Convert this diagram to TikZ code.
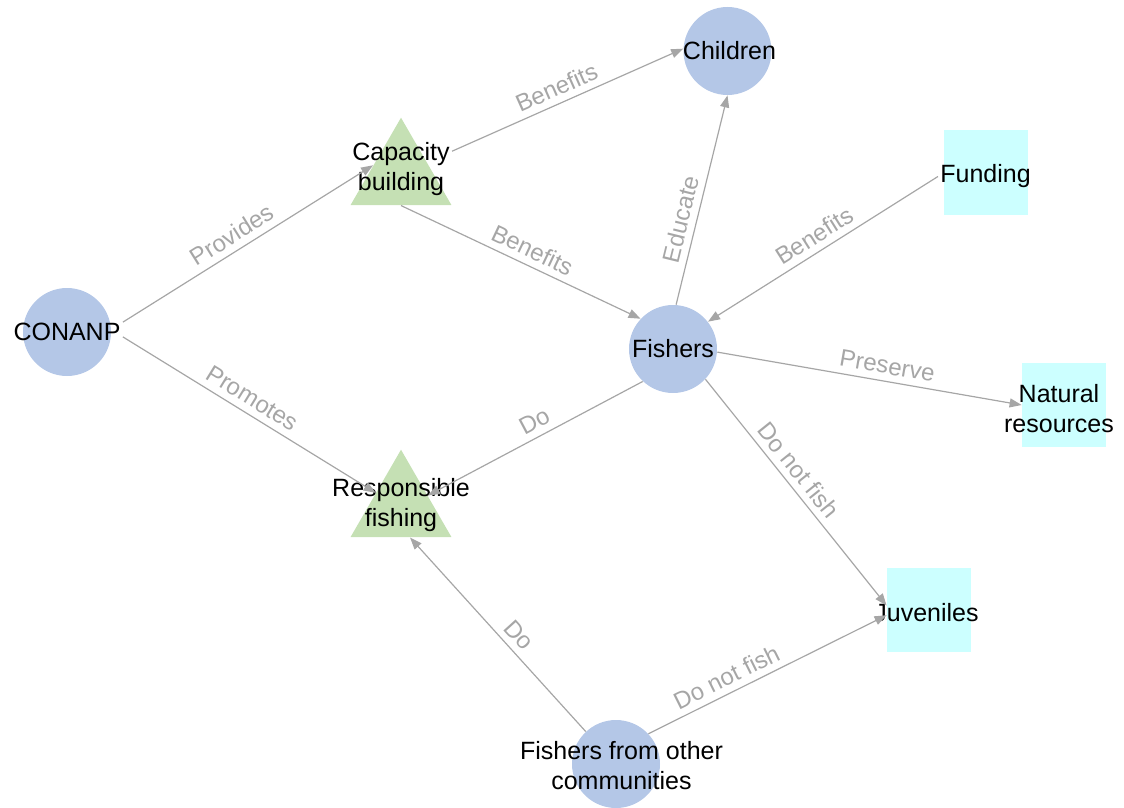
\documentclass[tikz,border=0pt]{standalone}
\usepackage{fontspec}
\setmainfont{Liberation Sans}
\usetikzlibrary{positioning, shapes.geometric, arrows.meta}
\definecolor{bubble}{RGB}{180,199,231}
\definecolor{leaf}{RGB}{197,224,180}
\definecolor{aqua}{RGB}{204,255,255}
\definecolor{wire}{RGB}{166,166,166}

\begin{document}
\begin{tikzpicture}[node distance=50pt, on grid,
		>={Triangle[length=6pt,width=4.5pt]},
		actor/.style={circle, fill=bubble, minimum size=44pt, inner sep=0pt},
		action/.style={regular polygon, regular polygon sides=3, fill=leaf, minimum size=58.3pt, inner sep=0pt},
		asset/.style={rectangle, fill=aqua, minimum size=42pt, inner sep=0pt},
		txt/.style={font=\fontsize{12.5}{15}\selectfont, align=center, inner sep=1pt},
		link/.style={draw=wire, line width=0.6pt, ->},
		lbl/.style={sloped, above, text=wire, font=\fontsize{12}{14}\selectfont}]
			\useasboundingbox (0,0) rectangle (562pt,-404pt);

			\node[actor, label={[txt, name=conanp-t]center:CONANP}] (conanp) at (33.5pt,-166pt) {};
			\node[action, above right=78pt and 167pt of conanp, label={[txt, name=cap-t, yshift=3.6pt]center:Capacity\\building}] (cap) {};
			\node[action, below right=88pt and 167pt of conanp, label={[txt, name=resp-t, yshift=1.6pt]center:Responsible\\fishing}] (resp) {};
			\node[actor, below right=8.5pt and 303pt of conanp, label={[txt, name=fish-t]center:Fishers}] (fish) {};
			\node[actor, above right=149pt and 27.25pt of fish, label={[txt, name=chil-t, xshift=1pt]center:Children}] (chil) {};
			\node[asset, above right=88.25pt and 156.25pt of fish, label={[txt, name=fund-t, yshift=-2pt]center:Funding}] (fund) {};
			\node[asset, below right=28pt and 195.5pt of fish, label={[txt, name=nat-t, xshift=-2.5pt, yshift=-2pt]center:Natural\\resources}] (nat) {};
			\node[asset, below right=130.5pt and 128pt of fish, label={[txt, name=juv-t, xshift=-1.25pt, yshift=-1.5pt]center:Juveniles}] (juv) {};
			\node[actor, below left=207.5pt and 28.5pt of fish, label={[txt, name=oth-t, xshift=2.75pt, yshift=-1pt]center:Fishers from other\\communities}] (oth) {};

			\draw[link] (conanp-t.10) -- node[lbl, pos=.47] {Provides} (cap.159);
			\draw[link] (conanp-t.-5) -- node[lbl, pos=.48] {Promotes} (resp.149);
			\draw[link] (cap-t.19) -- node[lbl, pos=.48] {Benefits} (chil.177);
			\draw[link] (cap.south) -- node[lbl, pos=.52] {Benefits} (fish.137);
			\draw[link] (fish.86) -- node[lbl, pos=.39] {Educate} (chil.-90);
			\draw[link] (fund-t.west) -- node[lbl, pos=.50] {Benefits} (fish.38);
			\draw[link] (fish.-4) -- node[lbl, pos=.55] {Preserve} (nat.west);
			\draw[link] (fish.227) -- node[lbl, pos=.47] {Do} (resp.25);
			\draw[link] (fish.-43) -- node[lbl, pos=.445] {Do not fish} (juv.174);
			\draw[link] (oth.133) -- node[lbl, pos=.444] {Do} (resp.-73);
			\draw[link] (oth.43) -- node[lbl, pos=.357] {Do not fish} (juv.187);
		\end{tikzpicture}
\end{document}
